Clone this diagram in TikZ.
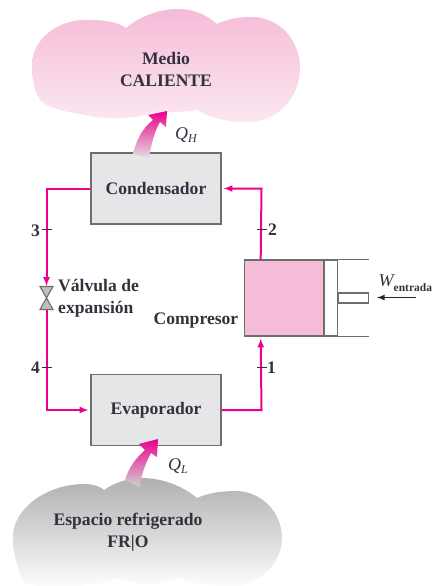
\documentclass[tikz,border=0pt]{standalone}
\usepackage{fontspec}
\setmainfont{Liberation Serif}
\usetikzlibrary{calc,arrows}
\tikzset{>=latex}
\definecolor{mypink}{RGB}{236, 0, 140}
\definecolor{mypink2}{RGB}{245, 188, 215}
\definecolor{mygray1}{RGB}{228, 230, 232}
\definecolor{mygray5}{RGB}{110, 110, 112}
\definecolor{myink}{RGB}{50, 50, 62}
\newcommand{\heatlbl}[2]{{\fontsize{18}{18}\selectfont\itshape #1\raisebox{-3.5pt}{\fontsize{12}{12}\selectfont #2}}}
\tikzset{
  lbl/.style = {font=\bfseries\fontsize{17.6}{20}\selectfont, text=myink, inner sep=0, align=center},
  unit/.style = {draw=mygray5, fill=mygray1, line width=1.2, minimum width=130, minimum height=71, inner sep=0},
  pipe/.style = {draw=mypink, line width=2},
  tick/.style = {draw=myink, line width=0.8},
  wall/.style = {draw=mygray5, line width=1.1}
}
\begin{document}
\begin{tikzpicture}[x=1pt, y=-1pt]
\useasboundingbox (0,0) rectangle (433,586);
% clouds
\shade[top color=mypink2, bottom color=mypink2!35] (32,65) .. controls (32,38) and (60,18) .. (90,20) .. controls (105,20) and (118,22) .. (126,28)
  .. controls (140,16) and (160,9) .. (178,9) .. controls (195,9) and (208,16) .. (217,24) .. controls (232,17) and (245,17) .. (255,17)
  .. controls (285,20) and (300,45) .. (300,68) .. controls (300,95) and (280,122) .. (248,122) .. controls (228,122) and (210,118) .. (197,110)
  .. controls (180,112) and (170,113) .. (160,111) .. controls (140,118) and (115,120) .. (95,117) .. controls (70,112) and (50,110) .. (40,100)
  .. controls (34,90) and (32,78) .. (32,65) -- cycle;
\shade[top color=black!31, bottom color=white] (13,536) .. controls (13,510) and (45,484) .. (85,484) .. controls (92,484) and (100,486) .. (104,490)
  .. controls (115,482) and (130,478) .. (142,478) .. controls (165,478) and (185,488) .. (197,498) .. controls (210,492) and (225,491) .. (238,491)
  .. controls (265,493) and (282,515) .. (282,538) .. controls (282,560) and (265,580) .. (240,586) .. controls (215,586) and (195,586) .. (180,577)
  .. controls (165,586) and (135,586) .. (118,578) .. controls (100,586) and (50,590) .. (25,584) .. controls (18,570) and (13,555) .. (13,536) -- cycle;
\node[lbl] (hot) at (166,69) {Medio\\[2pt]CALIENTE};
\node[lbl] (cold) at (128,532) {Espacio refrigerado\\[2pt]FR|O};
% units
\node[unit] (cond) at (156,188.5) {};
\node[lbl] at (cond) {Condensador};
\node[unit] (evap) at (156,410) {};
\node[lbl] at (evap) {Evaporador};
\node[draw=mygray5, fill=mypink2, line width=1.1, minimum width=79, minimum height=76, inner sep=0] (comp) at (284,298) {};
\node[wall, minimum width=13, minimum height=76, inner sep=0, anchor=west] (piston) at (comp.east) {};
\node[wall, fill=white, minimum width=30, minimum height=10, inner sep=0, anchor=west] (rod) at (piston.east) {};
\draw[wall] (comp.north east) -- ++(45,0);
\draw[wall] (comp.south east) -- ++(45,0);
% heat arrows
\shade[top color=mypink, bottom color=black!12] (133,154) .. controls (137,138) and (143,128) .. (153,120) -- (148,115) -- (167,111) -- (166,127) -- (160,122)
  .. controls (155,130) and (151,145) .. (149,158) -- cycle;
\shade[top color=mypink, bottom color=black!18] (125,480) .. controls (129,467) and (136,458) .. (145,450) -- (139,444) -- (158,439) -- (157,457) -- (151,453)
  .. controls (146,462) and (141,475) .. (140,487) -- cycle;
\node[inner sep=0, text=myink] (qh) at (186,135) {\heatlbl{Q}{H}};
\node[inner sep=0, text=myink] (ql) at (178,466) {\heatlbl{Q}{L}};
% valve
\coordinate (valvetop) at (46.5,286);
\coordinate (valvemid) at (46.5,298);
\coordinate (valvebot) at (46.5,310);
\draw[wall, fill=black!25] (40,286.5) -- (53,286.5) -- (valvemid) -- cycle;
\draw[wall, fill=black!25] (40,309.5) -- (53,309.5) -- (valvemid) -- cycle;
% pipes
\coordinate (tl) at (46.5,188.5);
\coordinate (tr) at (261.5,188.5);
\coordinate (bl) at (46.5,410);
\coordinate (br) at (261.5,410);
\draw[pipe, ->] (cond.west) -- (tl) -- (valvetop);
\draw[pipe, ->] (valvebot) -- (bl) -- ($(evap.west)+(-2,0)$);
\draw[pipe, ->] (evap.east) -- (br) -- ($(comp.south west)!0.209!(comp.south east)+(0,2)$);
\draw[pipe, ->] ($(comp.north west)!0.209!(comp.north east)$) -- (tr) -- ($(cond.east)+(2,0)$);
% state points
\coordinate (p3) at (46.5,229.5);
\coordinate (p2) at (261.5,229.5);
\coordinate (p4) at (46.5,367);
\coordinate (p1) at (261.5,367);
\foreach \p in {p1,p2,p3,p4} \draw[tick] ($(\p)+(-5,0)$) -- ($(\p)+(5,0)$);
\node[lbl, anchor=east] (n3) at (40,230.5) {3};
\node[lbl, anchor=east] (n4) at (40,368) {4};
\node[lbl, anchor=west] (n2) at (268,229.5) {2};
\node[lbl, anchor=west] (n1) at (267,367.5) {1};
% labels
\node[lbl, anchor=west, align=left] (valve) at (58,298.5) {Válvula de\\[2.5pt]expansión};
\node[lbl, anchor=east] (complbl) at (238.5,321) {Compresor};
\coordinate (wstart) at (416,297.5);
\coordinate (wend) at (377,297.5);
\draw[->, line width=1.6, draw=black!85] (wstart) -- (wend);
\node[inner sep=0, anchor=west, text=myink] (wlbl) at (378.5,283) {\fontsize{18}{18}\selectfont\itshape W\raisebox{-4.5pt}{\fontsize{11.5}{14}\selectfont\bfseries\upshape entrada}};
\end{tikzpicture}
\end{document}
